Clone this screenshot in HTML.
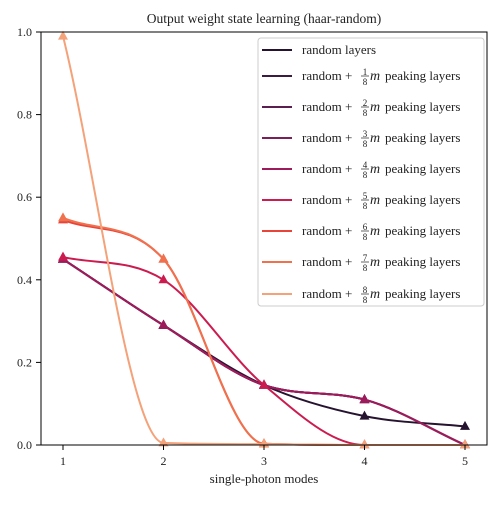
<!DOCTYPE html>
<html><head><meta charset="utf-8"><style>
body{margin:0;background:#fff;}
svg text{font-family:"Liberation Serif","DejaVu Serif",serif;fill:#222;}
</style></head><body>
<svg id="chart" width="500" height="500" viewBox="0 0 500 500" xmlns="http://www.w3.org/2000/svg">
<rect width="500" height="500" fill="#fff"/>
<text x="264" y="23" text-anchor="middle" font-size="13.5">Output weight state learning (haar-random)</text>
<g id="plot"></g>
<rect x="41" y="32" width="446" height="413" fill="none" stroke="#000" stroke-width="1"/>
<g id="axes"></g>
<text x="264" y="483" text-anchor="middle" font-size="13">single-photon modes</text>
<g id="legend"></g>
</svg>
<script>
const modes=[1,2,3,4,5];
const yTicks=[0,0.2,0.4,0.6,0.8,1.0];
const yTickLabels=["0.0","0.2","0.4","0.6","0.8","1.0"];
const fracs=["","1","2","3","4","5","6","7","8"];
const colors=["#26132f","#3d1a42","#5b1e51","#7a1f5a","#9e1b5b","#cb1b4f","#e8443a","#f0714d","#f4a27a"];
const sRandom=[0.45,0.29,0.145,0.07,0.045];
const s1=[0.45,0.29,0.145,0.11,0.0];
const s2=[0.45,0.29,0.145,0.11,0.0];
const s3=[0.45,0.29,0.145,0.11,0.0];
const s4=[0.45,0.29,0.145,0.11,0.0];
const s5=[0.455,0.40,0.145,0.0,0.0];
const s6=[0.545,0.45,0.003,0.0,0.0];
const s7=[0.55,0.45,0.003,0.0,0.0];
const s8=[0.99,0.005,0.002,0.0,0.0];
const series=[sRandom,s1,s2,s3,s4,s5,s6,s7,s8];
const NS="http://www.w3.org/2000/svg";
const X=v=>63+(v-1)*100.5;
const Y=v=>445-v*413;
function mk(t,a,p){const e=document.createElementNS(NS,t);for(const k in a)e.setAttribute(k,a[k]);(p||document.getElementById('plot')).appendChild(e);return e;}
function mono(xs,ys){const n=xs.length,d=[],m=[];for(let i=0;i<n-1;i++)d.push((ys[i+1]-ys[i])/(xs[i+1]-xs[i]));m[0]=d[0];m[n-1]=d[n-2];
for(let i=1;i<n-1;i++){if(d[i-1]*d[i]<=0)m[i]=0;else m[i]=(d[i-1]+d[i])/2;}
for(let i=0;i<n-1;i++){if(d[i]===0){m[i]=0;m[i+1]=0;continue;}const a=m[i]/d[i],b=m[i+1]/d[i],s=a*a+b*b;if(s>9){const t=3/Math.sqrt(s);m[i]=t*a*d[i];m[i+1]=t*b*d[i];}}
let p="M"+X(xs[0])+","+Y(ys[0]);for(let i=0;i<n-1;i++){const h=xs[i+1]-xs[i];p+=" C"+X(xs[i]+h/3)+","+Y(ys[i]+m[i]*h/3)+" "+X(xs[i+1]-h/3)+","+Y(ys[i+1]-m[i+1]*h/3)+" "+X(xs[i+1])+","+Y(ys[i+1]);}return p;}
const ax=document.getElementById('axes');
modes.forEach(v=>{const l=mk('line',{x1:X(v),x2:X(v),y1:445,y2:450,stroke:'#000'},ax);
const t=mk('text',{x:X(v),y:465,'text-anchor':'middle','font-size':'12'},ax);t.textContent=v;});
yTicks.forEach((v,i)=>{const l=mk('line',{x1:36,x2:41,y1:Y(v),y2:Y(v),stroke:'#000'},ax);
const t=mk('text',{x:32,y:Y(v)+4,'text-anchor':'end','font-size':'12'},ax);t.textContent=yTickLabels[i];});
series.forEach((s,k)=>{const c=colors[k];
const p=mk('path',{d:mono(modes,s),fill:'none',stroke:c,'stroke-width':2});
s.forEach((v,i)=>{const x=X(modes[i]),y=Y(v);const m=mk('polygon',{points:`${x},${y-5.5} ${x-5},${y+3.5} ${x+5},${y+3.5}`,fill:c});});});
const lg=document.getElementById('legend');
const box=mk('rect',{x:258,y:38,width:226,height:268,rx:3,fill:'#fff','fill-opacity':0.85,stroke:'#ccc'},lg);
const rowsY=[50,76,107,138,169,200,231,262,294];
colors.forEach((c,k)=>{const g=mk('g',{},lg);
mk('line',{x1:262,x2:292,y1:rowsY[k],y2:rowsY[k],stroke:c,'stroke-width':2},g);
if(k===0){const t=mk('text',{x:302,y:rowsY[k]+4,'font-size':'13'},g);t.textContent='random layers';}
else{const t=mk('text',{x:302,y:rowsY[k]+4,'font-size':'13'},g);t.textContent='random +';
const n=mk('text',{x:365,y:rowsY[k]-1,'font-size':'9','text-anchor':'middle'},g);n.textContent=fracs[k];
mk('line',{x1:361,x2:369,y1:rowsY[k],y2:rowsY[k],stroke:'#222','stroke-width':0.7},g);
const d=mk('text',{x:365,y:rowsY[k]+9,'font-size':'9','text-anchor':'middle'},g);d.textContent='8';
const m=mk('text',{x:370,y:rowsY[k]+4,'font-size':'14','font-style':'italic'},g);m.textContent='m';m.setAttribute('font-family','"DejaVu Sans",sans-serif');
const r=mk('text',{x:385,y:rowsY[k]+4,'font-size':'13'},g);r.textContent='peaking layers';}});
</script>
</body></html>
